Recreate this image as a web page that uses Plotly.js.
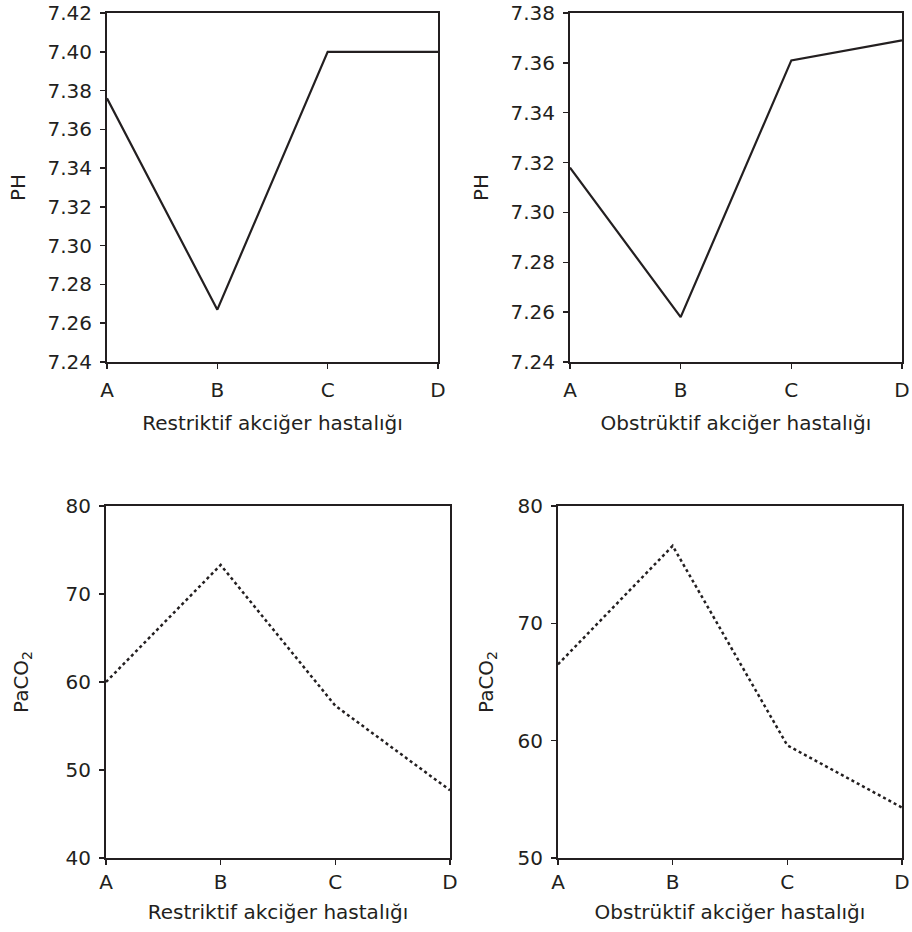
<!DOCTYPE html>
<html>
<head>
<meta charset="utf-8">
<script src="https://cdn.plot.ly/plotly-3.0.1.min.js"></script>
<style>html,body{margin:0;padding:0;background:#fff;}#chart{width:912px;height:932px;}</style>
</head>
<body>
<div id="chart"></div>
<script>
const categories = ['A', 'B', 'C', 'D'];
const phRestrictive = [7.376, 7.267, 7.40, 7.40];
const phObstructive = [7.318, 7.258, 7.361, 7.369];
const pco2Restrictive = [60.0, 73.3, 57.3, 47.7];
const pco2Obstructive = [66.5, 76.6, 59.6, 54.3];
const phRestTicks = [7.24, 7.26, 7.28, 7.30, 7.32, 7.34, 7.36, 7.38, 7.40, 7.42];
const phObstTicks = [7.24, 7.26, 7.28, 7.30, 7.32, 7.34, 7.36, 7.38];
const pco2RestTicks = [40, 50, 60, 70, 80];
const pco2ObstTicks = [50, 60, 70, 80];
const xTitleRest = 'Restriktif akciğer hastalığı';
const xTitleObst = 'Obstrüktif akciğer hastalığı';

const ink = '#231f20';
const FONT = 'DejaVu Sans, Verdana, sans-serif';

const traces = [
  {x: categories, y: phRestrictive, xaxis: 'x', yaxis: 'y', mode: 'lines', line: {color: ink, width: 2.2}},
  {x: categories, y: phObstructive, xaxis: 'x2', yaxis: 'y2', mode: 'lines', line: {color: ink, width: 2.2}},
  {x: categories, y: pco2Restrictive, xaxis: 'x3', yaxis: 'y3', mode: 'lines', line: {color: ink, width: 2.5, dash: 'dot'}},
  {x: categories, y: pco2Obstructive, xaxis: 'x4', yaxis: 'y4', mode: 'lines', line: {color: ink, width: 2.5, dash: 'dot'}}
];

function xa(domain, anchor, title, labelOff, titleOff) {
  return {
    domain: domain, anchor: anchor, type: 'category', range: [0, 3],
    showline: true, mirror: true, linecolor: ink, linewidth: 2,
    ticks: 'outside', ticklen: 5, tickwidth: 1.5, tickcolor: ink,
    ticklabelstandoff: labelOff,
    showgrid: false, zeroline: false, fixedrange: true,
    tickfont: {family: FONT, size: 20, color: ink},
    title: {text: title, font: {family: FONT, size: 20, color: ink}, standoff: titleOff}
  };
}
function ya(domain, anchor, range, ticks, title, fmt, titleOff) {
  return {
    domain: domain, anchor: anchor, range: range,
    tickvals: ticks, ticktext: ticks.map(v => v.toFixed(fmt)),
    showline: true, mirror: true, linecolor: ink, linewidth: 2,
    ticks: 'outside', ticklen: 5, tickwidth: 1.5, tickcolor: ink,
    ticklabelstandoff: 4,
    showgrid: false, zeroline: false, fixedrange: true,
    tickfont: {family: FONT, size: 20, color: ink},
    title: {text: title, font: {family: FONT, size: 20, color: ink}, standoff: titleOff}
  };
}

const W = 912, H = 932;
const px = (a, b) => [a / W, b / W];
const py = (top, bottom) => [1 - bottom / H, 1 - top / H];

const layout = {
  width: W, height: H,
  margin: {l: 0, r: 0, t: 0, b: 0},
  paper_bgcolor: '#fff', plot_bgcolor: '#fff',
  showlegend: false,
  xaxis: xa(px(107, 438), 'y', xTitleRest, 4, 15),
  yaxis: ya(py(13, 362), 'x', [7.24, 7.42], phRestTicks, 'PH', 2, 16),
  xaxis2: xa(px(570, 902), 'y2', xTitleObst, 4, 15),
  yaxis2: ya(py(13, 362), 'x2', [7.24, 7.38], phObstTicks, 'PH', 2, 16),
  xaxis3: xa(px(106, 450), 'y3', xTitleRest, 0, 12),
  yaxis3: ya(py(506, 858), 'x3', [40, 80], pco2RestTicks, 'PaCO<sub>2</sub>', 0, 32),
  xaxis4: xa(px(558, 902), 'y4', xTitleObst, 0, 12),
  yaxis4: ya(py(506, 858), 'x4', [50, 80], pco2ObstTicks, 'PaCO<sub>2</sub>', 0, 19)
};

Plotly.newPlot('chart', traces, layout, {displayModeBar: false, staticPlot: true});
</script>
</body>
</html>
